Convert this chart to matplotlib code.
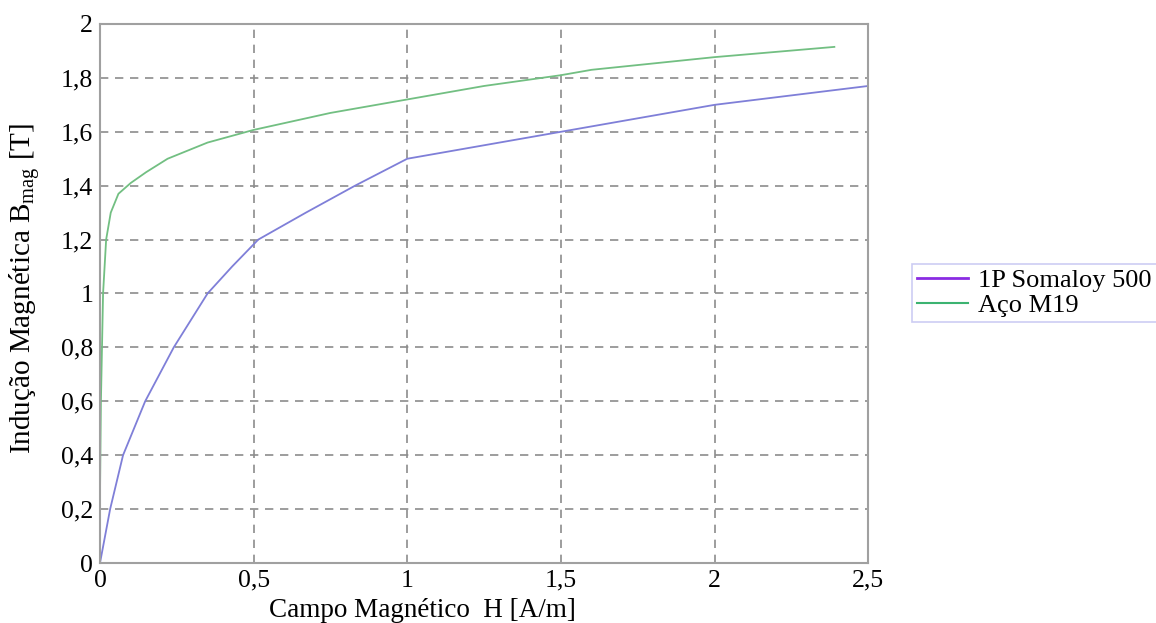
import matplotlib.pyplot as plt
import numpy as np

# B-H curves (H in the axis units, B in tesla)
somaloy_h = [0.0, 0.033, 0.075, 0.147, 0.24, 0.35, 0.43, 0.515, 0.67, 0.83, 1.0, 1.25, 1.5, 1.75, 2.0, 2.25, 2.5]
somaloy_b = [0.0, 0.2, 0.4, 0.6, 0.8, 1.0, 1.1, 1.2, 1.3, 1.4, 1.5, 1.55, 1.6, 1.65, 1.7, 1.735, 1.77]

m19_h = [0.0, 0.003, 0.01, 0.02, 0.035, 0.06, 0.1, 0.15, 0.22, 0.35, 0.5, 0.75, 1.0, 1.25, 1.5, 1.6, 2.0, 2.39]
m19_b = [0.25, 0.6, 1.0, 1.2, 1.3, 1.37, 1.41, 1.45, 1.5, 1.56, 1.607, 1.67, 1.72, 1.77, 1.81, 1.83, 1.877, 1.915]

xticks = [0, 0.5, 1, 1.5, 2, 2.5]
yticks = [0, 0.2, 0.4, 0.6, 0.8, 1.0, 1.2, 1.4, 1.6, 1.8, 2.0]

plt.rcParams["font.family"] = ["Liberation Serif", "DejaVu Serif"]
plt.rcParams["mathtext.fontset"] = "custom"
plt.rcParams["mathtext.rm"] = "Liberation Serif"


def comma(v):
    return f"{v:g}".replace(".", ",")


fig = plt.figure(figsize=(11.56, 6.23), dpi=100)
ax = fig.add_axes([0.0865, 0.0963, 0.6645, 0.8652])

ax.plot(somaloy_h, somaloy_b, color="#7f7fd8", lw=1.3)
ax.plot(m19_h, m19_b, color="#72bf82", lw=1.3)

ax.set_xlim(0, 2.5)
ax.set_ylim(0, 2)
ax.set_xticks(xticks)
ax.set_xticklabels([comma(v) for v in xticks], fontsize=18.5)
ax.set_yticks(yticks)
ax.set_yticklabels([comma(v) for v in yticks], fontsize=18.5)
ax.tick_params(length=0, pad=5)
ax.grid(True, ls=(0, (5, 4)), color="#8c8c8c", lw=1.2)
for sp in ax.spines.values():
    sp.set_color("#a0a0a0")
    sp.set_linewidth(1.5)

ax.set_xlabel("Campo Magnético  H [A/m]", fontsize=19.5)
ax.xaxis.set_label_coords(0.42, -0.064)
ax.set_ylabel(r"Indução Magnética B$_{\mathrm{mag}}$ [T]", fontsize=21)
ax.yaxis.set_label_coords(-0.074, 0.51)

# legend handles drawn in brighter colours, as in the original
h1, = ax.plot([], [], color="#8a2be2", lw=2)
h2, = ax.plot([], [], color="#3cb371", lw=1.5)
leg = fig.legend([h1, h2], ["1P Somaloy 500", "Aço M19"], loc="upper left",
                 bbox_to_anchor=(0.789, 0.577), fontsize=19, frameon=True,
                 fancybox=False, handlelength=1.93, handletextpad=0.38,
                 borderpad=0.2, borderaxespad=0, labelspacing=0.05)
leg.get_frame().set_edgecolor("#c0c0f0")
leg.get_frame().set_linewidth(1.2)

fig.savefig("out.png", dpi=100)
